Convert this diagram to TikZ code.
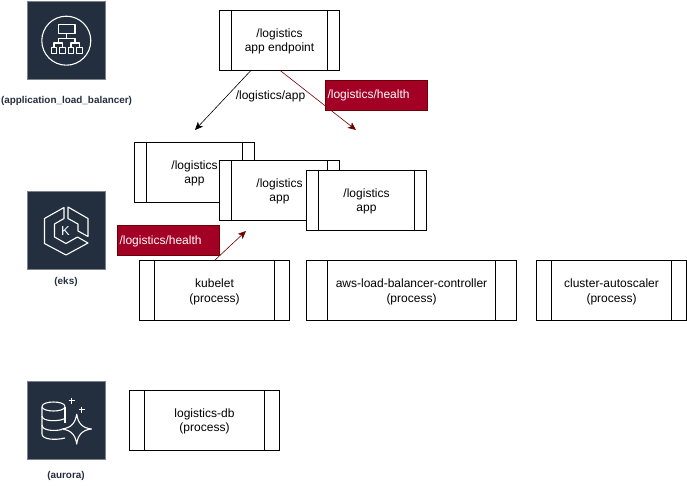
\documentclass[tikz,border=0pt]{standalone}
\usepackage{fontspec}
\setmainfont{Liberation Sans}
\usetikzlibrary{arrows.meta}
\usetikzlibrary{positioning}
\definecolor{awsdark}{HTML}{232F3E}
\definecolor{healthred}{HTML}{A20025}
\definecolor{healthdark}{HTML}{6F0000}
\begin{document}
\begin{tikzpicture}[x=1pt,y=-1pt,>={Stealth[length=8pt,width=7pt,inset=2pt]},font=\fontsize{12}{14.4}\selectfont]
 \tikzstyle{procbox}=[draw=black,fill=white,rectangle,align=center,line width=0.75pt,inner sep=0pt,outer sep=0pt,minimum height=60pt,
   text height=26pt,text depth=3pt,
   path picture={\draw[line width=0.75pt] ([xshift=#1]path picture bounding box.north west) -- ([xshift=#1]path picture bounding box.south west)
     ([xshift=-#1]path picture bounding box.north east) -- ([xshift=-#1]path picture bounding box.south east);}]
 \tikzstyle{healthtag}=[draw=healthdark,fill=healthred,text=white,rectangle,line width=0.75pt,inner sep=0pt,minimum width=102pt,minimum height=30pt,text width=98pt,align=left,
   text height=9.5pt,text depth=2pt]
 \tikzstyle{iconbox}=[fill=awsdark,draw=awsdark!60,line width=0.5pt,rectangle,minimum width=78pt,minimum height=78pt,inner sep=0pt]
 \tikzstyle{iconcap}=[text=awsdark,font=\fontsize{9.9}{11}\selectfont\bfseries,inner sep=0pt]
 \tikzstyle{iconline}=[draw=white,line width=1.1pt,line join=round]
 \useasboundingbox (0,0) rectangle (687,486);
 % app boxes
 \node[procbox=12pt,minimum width=120pt] (endpoint) at (279.5,40) {/logistics\\app endpoint};
 \node[procbox=12pt,minimum width=120pt] (appa) at (194.5,172) {/logistics\\app};
 \node[procbox=12pt,minimum width=120pt] (appb) at (279.5,190) {/logistics\\app};
 \node[procbox=12pt,minimum width=120pt] (appc) at (366.5,200) {/logistics\\app};
 % processes
 \node[procbox=15pt,minimum width=150pt] (kubelet) at (214.5,290.5) {kubelet\\(process)};
 \node[procbox=21pt,minimum width=210pt] (lbctl) [right=17pt of kubelet] {aws-load-balancer-controller\\(process)};
 \node[procbox=15pt,minimum width=150pt] (autoscaler) [right=20pt of lbctl] {cluster-autoscaler\\(process)};
 \node[procbox=15pt,minimum width=150pt] (db) at (204.5,420) {logistics-db\\(process)};
 % arrows
 \coordinate (apptip) at (195,130);
 \coordinate (healthtip) at (356,130);
 \coordinate (kubetip) at (246,231);
 \draw[->,line width=0.6pt,black] (endpoint) -- (apptip);
 \draw[->,line width=0.6pt,healthdark] (endpoint.south) -- (healthtip);
 \draw[->,line width=0.6pt,healthdark] (kubelet.north) -- (kubetip);
 \node[inner sep=0pt] (applabel) at (270.5,96) {/logistics/app};
 \node[healthtag] (healthtop) at (376.5,95) {/logistics/health};
 \node[healthtag] (healthkube) at (168.5,240.5) {/logistics/health};
 % aws icons
 \node[iconbox] (albicon) at (66,40) {};
 \node[iconcap] (alblabel) at (66.5,101) {(application\_load\_balancer)};
 \node[iconbox] (eksicon) at (66,230) {};
 \node[iconcap] (ekslabel) at (66,281.5) {(eks)};
 \node[iconbox] (auroraicon) at (66,420) {};
 \node[iconcap] (auroralabel) at (66,475.5) {(aurora)};
 % load balancer glyph
 \draw[iconline] (66.3,40.7) circle (24.5);
 \draw[iconline] (58.3,24.3) rectangle (75,33.3);
 \draw[iconline] (66.5,33.3) -- (66.5,38.5) (58.5,43) -- (58.5,38.5) -- (75,38.5) -- (75,43);
 \draw[iconline] (54,47.7) -- (54,43) -- (62.5,43) -- (62.5,47.7) (71,47.7) -- (71,43) -- (79.5,43) -- (79.5,47.7);
 \foreach \sx in {51.3,59.8,68.3,76.8}
   \draw[iconline] (\sx,47.7) rectangle ++(5.3,5.5);
 % eks glyph
 \draw[iconline] (64,207.5) -- (44.5,218.5) -- (44.5,243.5) -- (66,255) -- (88,243) -- (77.5,237) -- (66,243.5) -- (54.5,237) -- (54.5,224) -- (64,218.5) -- cycle;
 \draw[iconline] (68,207) -- (88,218.5) -- (88,236.5) -- (78,231) -- (78,224) -- (68,218.5) -- cycle;
 \node[text=white,inner sep=0pt,font=\fontsize{13}{15}\selectfont] (ekask) at (65.5,231) {K};
 % aurora glyph
 \draw[iconline] (42,406.5) .. controls (42,400.5) and (65,400.5) .. (65,406.5) .. controls (65,412.5) and (42,412.5) .. (42,406.5);
 \draw[iconline] (42,406.5) -- (42,434) .. controls (42,439.5) and (55,440.5) .. (65,438);
 \draw[iconline] (65,406.5) -- (65,423);
 \draw[iconline] (42,416) .. controls (42,421.5) and (58,422) .. (65,418.5);
 \draw[iconline] (42,425) .. controls (42,430.5) and (54,431.5) .. (62,429.5);
 \draw[iconline] (76.7,414) .. controls (78,423) and (82,428) .. (91.5,429) .. controls (82,430) and (78,435) .. (76.7,444)
   .. controls (75.5,435) and (71,430) .. (62,429) .. controls (71,428) and (75.5,423) .. (76.7,414);
 \draw[iconline] (71.7,397.5) -- (71.7,403.5) (68.7,400.5) -- (74.7,400.5);
 \draw[iconline] (81.7,406.5) -- (81.7,412.5) (78.7,409.5) -- (84.7,409.5);
\end{tikzpicture}
\end{document}
